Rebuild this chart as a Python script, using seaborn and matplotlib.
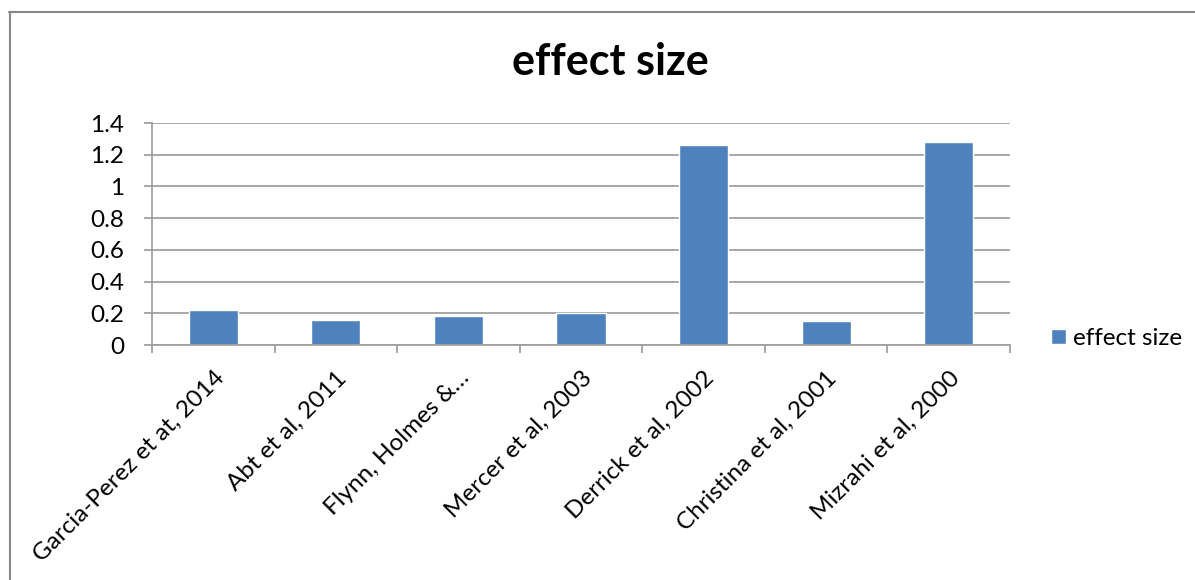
import matplotlib
matplotlib.use("Agg")
import matplotlib.pyplot as plt
import seaborn as sns
import pandas as pd
from matplotlib.lines import Line2D

studies = [
    "Garcia-Perez et at, 2014",
    "Abt et al, 2011",
    "Flynn, Holmes &…",
    "Mercer et al, 2003",
    "Derrick et al, 2002",
    "Christina et al, 2001",
    "Mizrahi et al, 2000",
]
effect_size = [0.22, 0.16, 0.18, 0.20, 1.26, 0.15, 1.28]
series_name = "effect size"
y_ticks = [0, 0.2, 0.4, 0.6, 0.8, 1.0, 1.2, 1.4]
y_tick_labels = ["0", "0.2", "0.4", "0.6", "0.8", "1", "1.2", "1.4"]

df = pd.DataFrame({"study": studies, "value": effect_size, "series": series_name})

sns.set_theme(style="white")
plt.rcParams["font.family"] = ["Lato", "DejaVu Sans"]
plt.rcParams["text.color"] = "black"
plt.rcParams["xtick.color"] = "black"
plt.rcParams["ytick.color"] = "black"

bar_color = "#4F81BD"
grid_color = "#A0A0A0"
label_size = 17.5

fig = plt.figure(figsize=(11.95, 5.8), dpi=100)
ax = fig.add_axes([152 / 1195, 1 - 345 / 580, (1010 - 152) / 1195, (345 - 123) / 580])

sns.barplot(data=df, x="study", y="value", hue="series", palette=[bar_color],
            width=0.4, ax=ax, saturation=1, legend=True)

ax.set_ylim(0, 1.4)
ax.set_xlim(-0.5, len(studies) - 0.5)
ax.set_yticks(y_ticks)
ax.set_yticklabels(y_tick_labels, fontsize=label_size)
ax.yaxis.grid(True, color=grid_color, linewidth=1.3)
ax.set_axisbelow(True)
ax.set_xlabel("")
ax.set_ylabel("")

# category boundary ticks on x
ax.set_xticks([i + 0.5 for i in range(-1, len(studies))], minor=True)
ax.set_xticks(range(len(studies)))
ax.set_xticklabels(studies, fontsize=label_size, rotation=45, ha="right",
                   va="top", rotation_mode="anchor")
ax.tick_params(axis="x", which="major", length=0, pad=16)
ax.tick_params(axis="x", which="minor", length=6, color=grid_color, width=1.3,
               bottom=True)
ax.tick_params(axis="y", length=6, color=grid_color, width=1.3, left=True, pad=14,
               labelcolor="black")

for side in ["top", "right"]:
    ax.spines[side].set_visible(False)
for side in ["left", "bottom"]:
    ax.spines[side].set_color(grid_color)
    ax.spines[side].set_linewidth(1.3)

handles, labels = ax.get_legend_handles_labels()
ax.legend(handles, labels, loc="center left", bbox_to_anchor=(1.037, 0.03),
          frameon=False, fontsize=label_size, handlelength=0.6, handleheight=0.6,
          handletextpad=0.3, borderaxespad=0)

fig.text(610 / 1195, 1 - 62 / 580, "effect size", fontsize=31, fontweight="bold",
         ha="center", va="center", color="black")

# chart frame edges
fig.add_artist(Line2D([9 / 1195, 1], [1 - 11.5 / 580, 1 - 11.5 / 580],
                      transform=fig.transFigure, color="#868686", linewidth=1.5))
fig.add_artist(Line2D([9.5 / 1195, 9.5 / 1195], [0, 1 - 11.5 / 580],
                      transform=fig.transFigure, color="#868686", linewidth=1.5))

fig.savefig("out.png", dpi=100, facecolor="white")
